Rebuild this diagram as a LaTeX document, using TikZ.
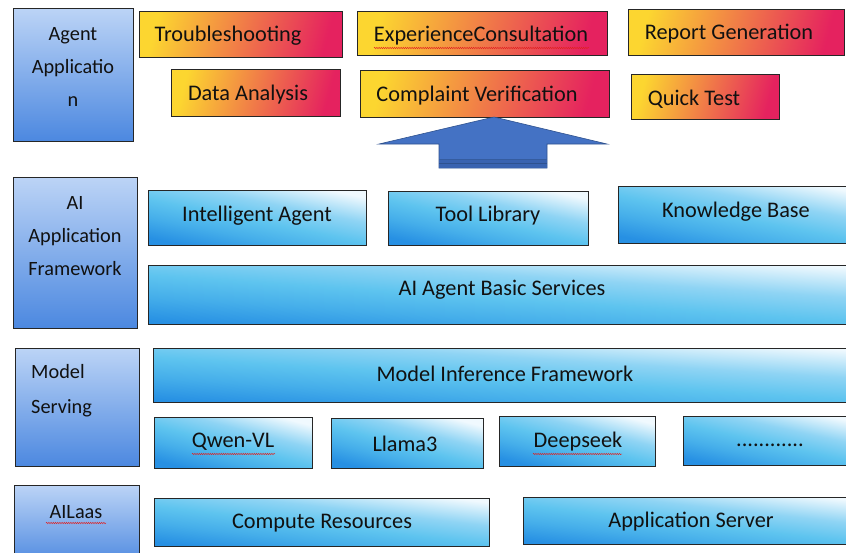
\documentclass[tikz,border=0pt]{standalone}
\usepackage{fontspec}
\setmainfont{Carlito}
\usetikzlibrary{decorations.pathmorphing}

\definecolor{inkc}{HTML}{111111}
\definecolor{edgec}{HTML}{262626}
\definecolor{bluelo}{HTML}{2790E3}
\definecolor{bluelomid}{HTML}{45AEEA}
\definecolor{bluemid}{HTML}{5EC4EF}
\definecolor{bluemidhi}{HTML}{8FD4F4}
\definecolor{bluehi}{HTML}{F0F9FE}
\definecolor{panelhi}{HTML}{BCD4F6}
\definecolor{panello}{HTML}{4C88E0}
\definecolor{orangelo}{HTML}{FCD630}
\definecolor{orangemid}{HTML}{F4A55E}
\definecolor{orangehi}{HTML}{E5225F}
\definecolor{arrowfill}{HTML}{4472C4}
\definecolor{arrowedge}{HTML}{2F528F}
\definecolor{arrowdark}{HTML}{3A63B0}
\definecolor{spellred}{HTML}{E02020}

% layer gradient: dark at the lower left, pale towards the upper right
\pgfdeclareverticalshading{layershade}{100bp}{%
  color(0bp)=(bluelo); color(25bp)=(bluelo); color(37bp)=(bluelomid);
  color(48bp)=(bluemid); color(60bp)=(bluemidhi); color(75bp)=(bluehi);
  color(100bp)=(bluehi)}

\tikzset{
  blk/.style={rectangle, draw=edgec, line width=0.9pt, inner sep=0pt, outer sep=0pt},
  panel/.style={blk, shading=axis, top color=panelhi, bottom color=panello},
  layerbox/.style={blk, shading=layershade},
  appbox/.style={blk, shading=axis, top color=orangelo, middle color=orangemid, bottom color=orangehi, shading angle=75},
  lbl/.style={inner sep=0pt, text=inkc, font=\fontsize{22.3}{26}\selectfont},
  sidelbl/.style={inner sep=0pt, text=inkc, font=\fontsize{20.3}{33}\selectfont},
  squiggle/.style={draw=spellred, line width=0.45pt, decorate,
    decoration={snake, amplitude=0.7pt, segment length=2.2pt}}
}

% box from corner (x1,y1) to corner (x2,y2), y measured downwards
\newcommand\boxnode[6]{%
  \node[#2, minimum width={(#5-#3)*1pt}, minimum height={(#6-#4)*1pt}]
    (#1) at ({(#3+#5)/2},{(#4+#6)/2}) {};}
% same, with the layer gradient tilted towards the upper right
\newcommand\layernode[5]{%
  \pgfmathsetmacro\shang{-atan(0.8*(#5-#3)/(#4-#2))}%
  \node[layerbox, shading angle=\shang,
        minimum width={(#4-#2)*1pt}, minimum height={(#5-#3)*1pt}]
    (#1) at ({(#2+#4)/2},{(#3+#5)/2}) {};}

\begin{document}
\begin{tikzpicture}[x=1pt, y=-1pt]
\useasboundingbox (0,0) rectangle (846,552);
\clip (0,0) rectangle (846,552);
\fill[white] (0,0) rectangle (846,552);

% ---- left column: layer titles ----
\boxnode{pAgent}{panel}{13}{8}{133}{141}
\node[sidelbl, align=center] (pAgentT) at (73,67) {Agent\\Applicatio\\n};

\boxnode{pFrame}{panel}{13}{177}{137}{328}
\node[sidelbl, align=center] (pFrameT) at (75,236) {AI\\Application\\Framework};

\boxnode{pServe}{panel}{15}{348}{139}{466}
\node[sidelbl, font=\fontsize{20.3}{35}\selectfont, align=left, anchor=west]
  (pServeT) at (31,391) {Model\\Serving};

\boxnode{pIaas}{panel}{14}{485}{139}{566}
\node[sidelbl] (pIaasT) at (76,512) {AILaas};
\draw[squiggle] (46,523) -- (106,523);

% ---- agent applications ----
\boxnode{aTrouble}{appbox}{139}{11}{342}{57}
\node[lbl] (aTroubleT) at (228,36) {Troubleshooting};
\boxnode{aExp}{appbox}{357}{11}{607}{55}
\node[lbl] (aExpT) at (481,36) {ExperienceConsultation};
\draw[squiggle] (374,48) -- (589,48);
\boxnode{aReport}{appbox}{628}{9}{844}{55}
\node[lbl] (aReportT) at (729,34) {Report Generation};
\boxnode{aData}{appbox}{171}{69}{340}{116}
\node[lbl] (aDataT) at (248,95) {Data Analysis};
\boxnode{aComp}{appbox}{360}{70}{609}{117}
\node[lbl] (aCompT) at (477,96) {Complaint Verification};
\boxnode{aQuick}{appbox}{631}{74}{779}{119}
\node[lbl] (aQuickT) at (694,99) {Quick Test};

% ---- block arrow pointing up to the applications ----
\coordinate (tip) at (494,117);
\filldraw[fill=arrowfill, draw=arrowedge, line width=0.6pt, line join=miter]
  (tip) -- (607,144) -- (547,144) -- (547,168) -- (439,168) -- (439,144)
  -- (379,144) -- cycle;
\fill[arrowdark] (439.4,159) rectangle (546.6,167.6);
\draw[arrowedge, line width=0.6pt] (439.4,163.5) -- (546.6,163.5);
\draw[arrowedge!70!arrowfill, line width=0.5pt] (439.4,159) -- (546.6,159);

% ---- AI application framework ----
\layernode{fAgent}{148}{190}{366}{245}
\node[lbl] (fAgentT) at (257,216) {Intelligent Agent};
\layernode{fTool}{388}{191}{588}{245}
\node[lbl] (fToolT) at (488,216) {Tool Library};
\layernode{fKnow}{618}{186}{860}{243}
\node[lbl] (fKnowT) at (736,212) {Knowledge Base};
\layernode{fBasic}{148}{265}{860}{324}
\node[lbl] (fBasicT) at (502,290) {AI Agent Basic Services};

% ---- model serving ----
\layernode{mInfer}{153}{348}{860}{402}
\node[lbl] (mInferT) at (505,374) {Model Inference Framework};
\layernode{mQwen}{154}{417}{312}{468}
\node[lbl] (mQwenT) at (233,442) {Qwen-VL};
\draw[squiggle] (192,454) -- (275,454);
\layernode{mLlama}{331}{418}{483}{468}
\node[lbl] (mLlamaT) at (405,444) {Llama3};
\layernode{mDeep}{499}{416}{655}{466}
\node[lbl] (mDeepT) at (578,442) {Deepseek};
\draw[squiggle] (533,454) -- (622,454);
\layernode{mMore}{683}{416}{860}{465}
\node[lbl] (mMoreT) at (770,445) {............};

% ---- infrastructure ----
\layernode{iCompute}{154}{498}{489}{546}
\node[lbl] (iComputeT) at (322,523) {Compute Resources};
\layernode{iServer}{523}{497}{860}{544}
\node[lbl] (iServerT) at (691,522) {Application Server};
\end{tikzpicture}
\end{document}
